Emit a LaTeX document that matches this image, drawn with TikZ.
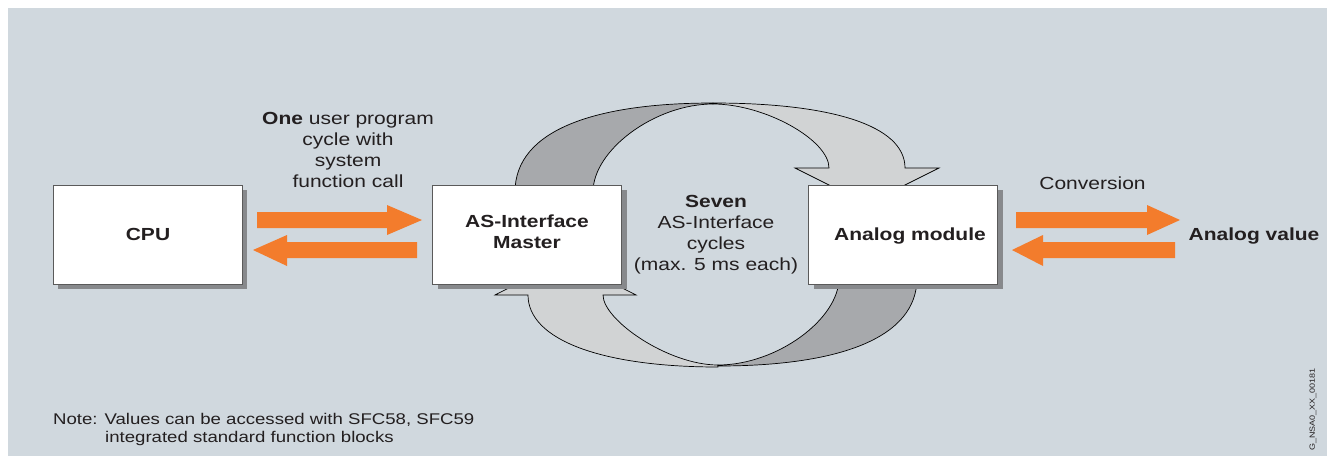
\documentclass[tikz,border=0pt]{standalone}
\usepackage{fontspec}
\setmainfont{Liberation Sans}[FakeStretch=1.2]
\usetikzlibrary{shadows}
\definecolor{bg}{RGB}{208,216,222}
\definecolor{darkband}{RGB}{167,169,172}
\definecolor{lightband}{RGB}{209,211,212}
\definecolor{orng}{RGB}{243,124,44}
\definecolor{shade}{RGB}{135,137,140}
\definecolor{boxline}{RGB}{90,90,90}
\definecolor{txt}{RGB}{35,31,32}
\begin{document}
\begin{tikzpicture}[x=1pt,y=-1pt,
  box/.style={draw=boxline, line width=0.8pt, fill=white, minimum width=189pt, minimum height=99pt, inner sep=0pt,
    drop shadow={shadow xshift=5pt, shadow yshift=-5pt, fill=shade, opacity=1}},
  band/.style={draw=black, line width=0.7pt, line join=miter},
  lbl/.style={font=\fontsize{17.5}{21}\selectfont, text=txt, inner sep=0pt, align=center},
  blbl/.style={lbl, font=\fontsize{17.5}{21}\selectfont\bfseries},
  note/.style={font=\fontsize{15.5}{18}\selectfont, text=txt, inner sep=0pt, align=left},
  orangearrow/.style={fill=orng}
]
\useasboundingbox (0,0) rectangle (1327,456);
\fill[white] (0,0) rectangle (1327,456);
\fill[bg] (8,8) rectangle (1327,456);

% cycle ribbon, top half
\filldraw[band, fill=darkband] (515,192) .. controls (515,130) and (595,103) .. (713,103)
  -- (713,104) .. controls (655,104) and (593,150) .. (593,192) -- cycle;
\filldraw[band, fill=lightband] (713,103) .. controls (830,103) and (905,125) .. (905,168)
  -- (939,168) -- (867,204) -- (795,168) -- (829,168)
  .. controls (829,140) and (765,104) .. (713,104) -- cycle;
% cycle ribbon, bottom half
\filldraw[band, fill=lightband] (718,367) .. controls (602,367) and (528,340) .. (528,295)
  -- (495,295) -- (565.5,259) -- (636,295) -- (603,295)
  .. controls (603,320) and (668,365) .. (718,365) -- cycle;
\filldraw[band, fill=darkband] (917,278) .. controls (917,339) and (837,366) .. (718,366)
  -- (718,365) .. controls (777,365) and (839,319) .. (839,278) -- cycle;

% boxes
\node[box] (cpu) at (147.5,234.5) {};
\node[box] (master) at (527,234.5) {};
\node[box] (analog) at (903,234.5) {};

\node[blbl, anchor=base] (cpulbl) at (148,240) {CPU};
\node[blbl] (masterlbl) at (527,232) {AS-Interface\\Master};
\node[blbl, anchor=base] (analoglbl) at (910,240) {Analog module};

% orange block arrows
\fill[orangearrow] (257,212) -- (387,212) -- (387,205) -- (422,220) -- (387,235) -- (387,228) -- (257,228) -- cycle;
\fill[orangearrow] (417,242) -- (287,242) -- (287,235) -- (253,250) -- (287,266) -- (287,258) -- (417,258) -- cycle;
\fill[orangearrow] (1016,212) -- (1147,212) -- (1147,205) -- (1180,220) -- (1147,235) -- (1147,228) -- (1016,228) -- cycle;
\fill[orangearrow] (1175,242) -- (1043,242) -- (1043,235) -- (1012,250) -- (1043,266) -- (1043,258) -- (1175,258) -- cycle;

% texts
\node[lbl] (prog) at (348,150) {\textbf{One} user program\\cycle with\\system\\function call};
\node[lbl] (seven) at (716,235) {\textbf{Seven}\\AS-Interface\\cycles\\(max. 5 ms each)};
\node[lbl, anchor=base] (conv) at (1092.5,189) {Conversion};
\node[blbl, anchor=base] (aval) at (1254,240) {Analog value};
\node[note, anchor=north west] (notetxt) at (53,413.5) {Note: Values can be accessed with SFC58, SFC59\\\hspace*{52pt}integrated standard function blocks};
\node[font=\fontsize{7.5}{9}\selectfont, text=txt, inner sep=0pt, rotate=90] (code) at (1313,409.5) {G\_NSA0\_XX\_00181};
\end{tikzpicture}
\end{document}
